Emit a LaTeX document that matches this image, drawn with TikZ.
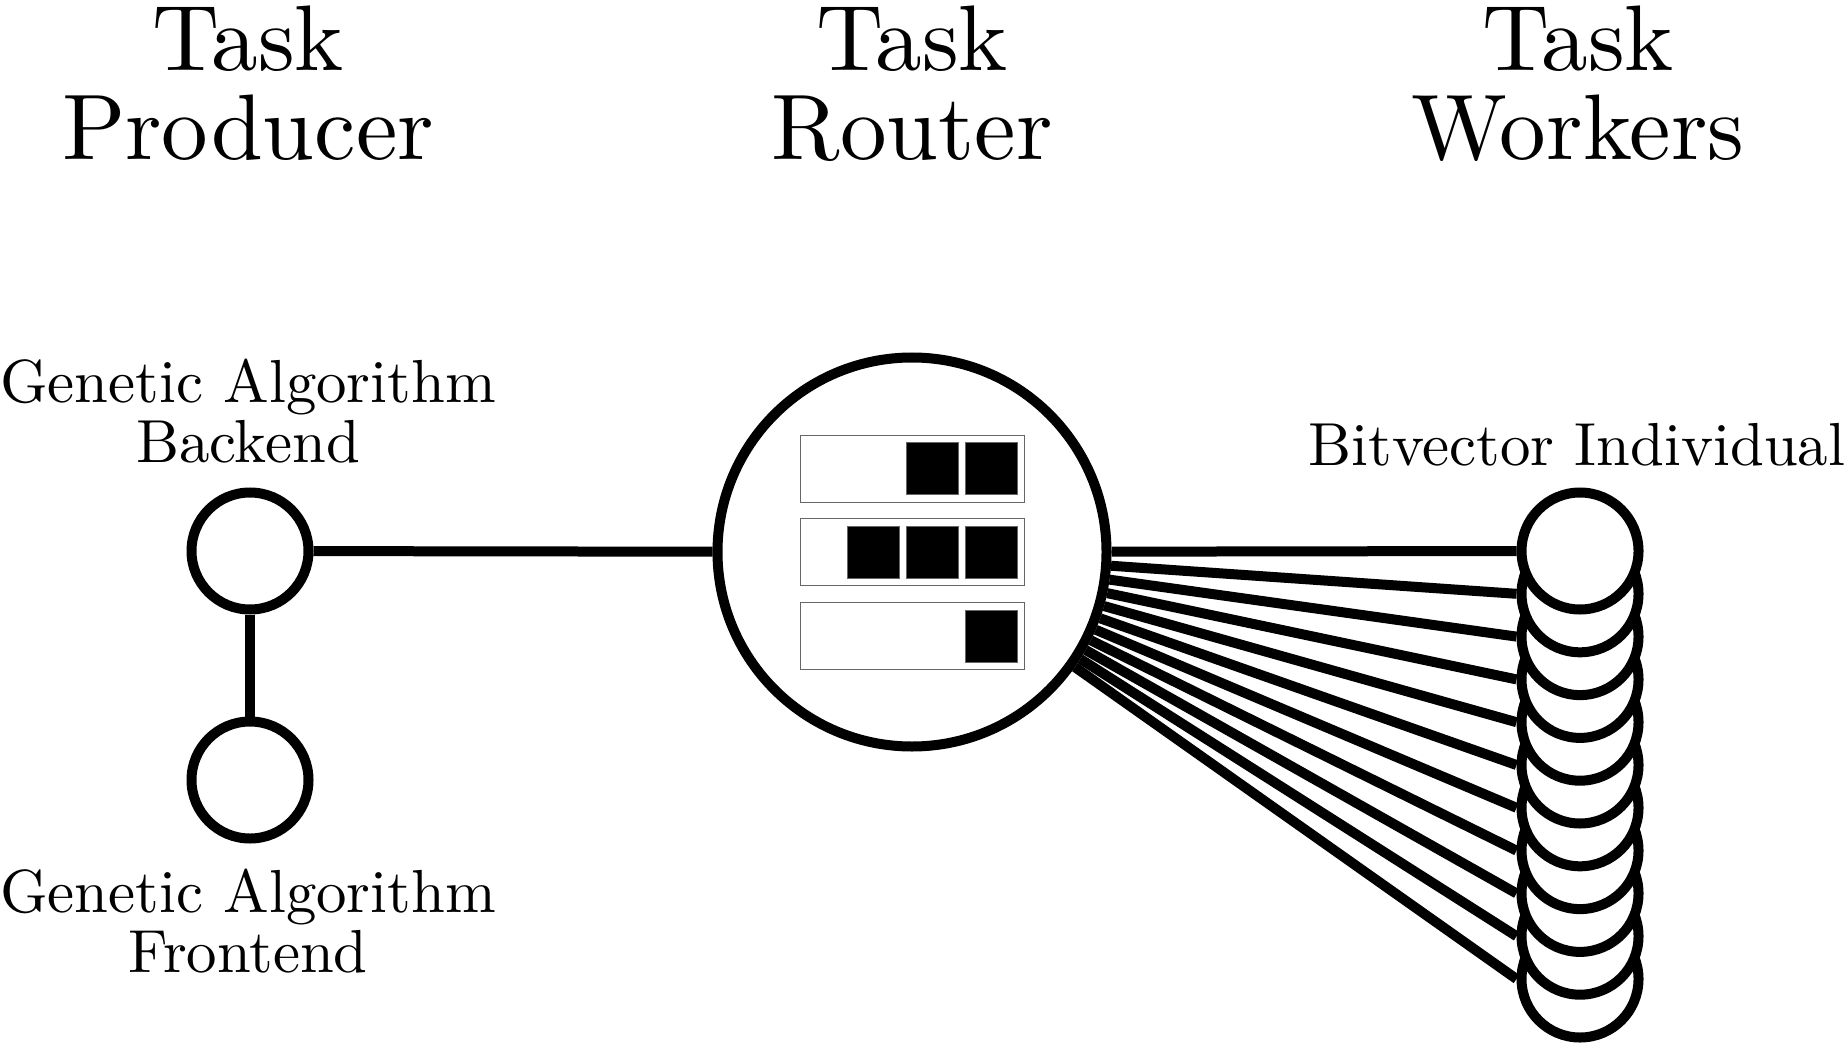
\documentclass[tikz,border=0pt]{standalone}
\usepackage{fontspec}
\setmainfont{lmroman10-regular.otf}
\usetikzlibrary{positioning}
\tikzset{%
  unit/.style    = {draw, circle, line width = 1mm, fill = white,
    minimum size = 11.7mm, inner sep = 0pt}, % producer / worker
  router/.style  = {draw, circle, line width = 1mm, fill = white,
    minimum size = 38.9mm, inner sep = 0pt}, % router
  queue/.style   = {draw = black!60, line width = 0.1mm, rectangle,
    minimum width = 22.4mm, minimum height = 6.7mm, inner sep = 0pt},
  job/.style     = {draw = black!60, line width = 0.1mm, fill = black,
    minimum size = 5.2mm, inner sep = 0pt}, % queued task
  heading/.style = {align = center, inner sep = 0pt,
    font = \fontsize{26.5}{25.6}\selectfont},
  tag/.style     = {align = center, inner sep = 0pt,
    font = \fontsize{17.3}{16.8}\selectfont},
  link/.style    = {line width = 1mm}
}

\begin{document}
\begin{tikzpicture}[x = 1mm, y = -1mm]
\useasboundingbox (0,0) rectangle (184.6,104.6);
% headings
\node [heading, anchor = base] (hprod) at (24.8,16.0) {Task\\Producer};
\node [heading, anchor = base] (hrout) at (91.2,16.0) {Task\\Router};
\node [heading, anchor = base] (hwork) at (157.8,16.0) {Task\\Workers};
% producer
\draw
	(25.0,55.1) node [unit] (back) {}
	(25.0,78.0) node [unit] (front) {};
\node [tag, anchor = base] (lback) at (24.8,46.2) {Genetic Algorithm\\Backend};
\node [tag, anchor = base] (lfront) at (24.8,97.2) {Genetic Algorithm\\Frontend};
% router and its queues
\draw
	(91.2,55.2) node [router] (rt) {}
	(91.2,46.85) node [queue] (q1) {}
	(91.2,55.2) node [queue] (q2) {}
	(91.2,63.6) node [queue] (q3) {};
\draw
	(93.2,46.85) node [job] (j12) {}
	(99.1,46.85) node [job] (j13) {}
	(87.3,55.2) node [job] (j21) {}
	(93.2,55.2) node [job] (j22) {}
	(99.1,55.2) node [job] (j23) {}
	(99.1,63.6) node [job] (j33) {};
% workers
\foreach \k in {10,...,0}
	\node [unit] (w\k) at (158.0,55.1+4.28*\k) {};
\node [tag, anchor = base] (lwork) at (157.7,46.5) {Bitvector Individual};
% links
\draw[link] (back) -- (rt);
\draw[link] (back) -- (front);
\foreach \k in {0,...,10}
	\draw[link] (rt) -- (w\k.west);
\end{tikzpicture}
\end{document}
